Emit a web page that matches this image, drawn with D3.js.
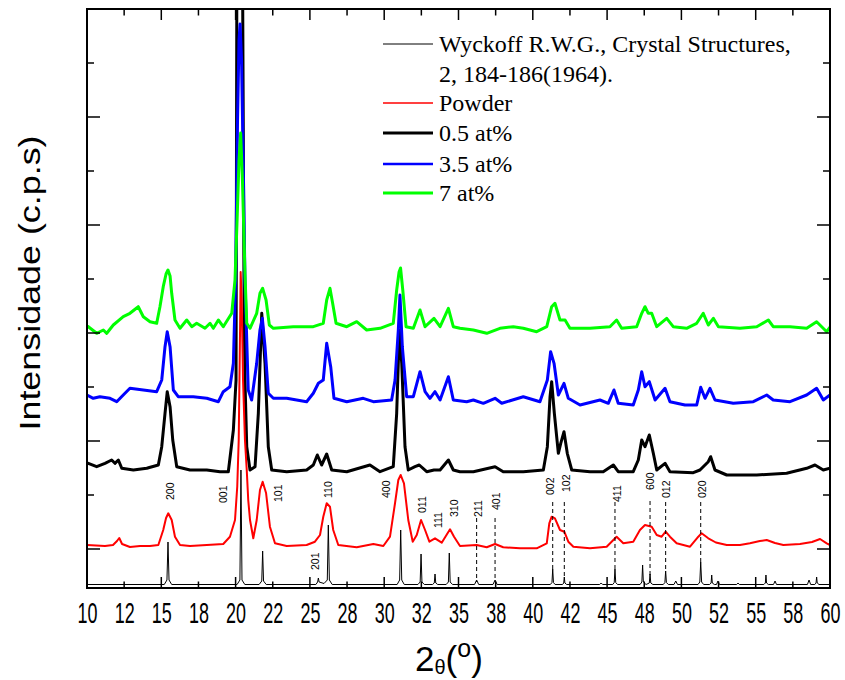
<!DOCTYPE html>
<html><head><meta charset="utf-8">
<script src="https://cdn.jsdelivr.net/npm/d3@7"></script>
<style>body{margin:0;background:#fff}svg{display:block}</style>
</head><body>
<svg id="chart" width="845" height="680"></svg>
<script>
// ---------- DATA ----------
const xTicks = [10,12.5,15,17.5,20,22.5,25,27.5,30,32.5,35,37.5,40,42.5,45,47.5,50,52.5,55,57.5,60];
const xTickLabels = ["10","12","15","18","20","22","25","28","30","32","35","38","40","42","45","48","50","52","55","58","60"];
const yTicks = [390,930,1470,2010,2550,3090,3630,4170,4710,5250];
const yMajorTicks = [390,1470,2550,3630,4710];

const seriesNames = ["Reference","Powder","0.5 at%","3.5 at%","7 at%"];
const legendLabels = [["Wyckoff R.W.G., Crystal Structures,","2, 184-186(1964)."],["Powder"],["0.5 at%"],["3.5 at%"],["7 at%"]];

// reference pattern (Wyckoff) [2theta, intensity]
const reference = [
[10.0,35],
[15.20,35],[15.38,80],[15.45,460],[15.52,80],[15.70,35],
[20.10,35],[20.29,80],[20.36,1180],[20.43,80],[20.62,35],
[21.58,35],[21.76,70],[21.82,370],[21.88,70],[22.06,35],
[25.40,35],[25.52,60],[25.57,100],[25.62,60],[25.95,45],[26.17,80],[26.24,630],[26.31,80],[26.50,35],
[30.87,35],[31.04,80],[31.11,580],[31.18,80],[31.35,35],
[32.27,35],[32.42,60],[32.48,340],[32.54,60],[32.70,35],
[33.25,35],[33.37,50],[33.42,140],[33.47,50],[33.60,35],
[34.17,35],[34.32,60],[34.38,350],[34.44,60],[34.60,35],
[36.08,35],[36.22,80],[36.36,35],
[37.32,35],[37.46,80],[37.60,35],
[41.18,35],[41.29,55],[41.34,190],[41.39,55],[41.50,35],
[42.00,35],[42.08,50],[42.12,110],[42.16,50],[42.28,35],
[44.50,35],[44.60,50],[44.70,35],
[45.38,35],[45.48,55],[45.53,190],[45.58,55],[45.70,35],
[47.22,35],[47.34,60],[47.39,230],[47.44,60],[47.62,35],[47.84,50],[47.89,140],[47.94,50],[48.08,35],
[48.78,35],[48.89,55],[48.94,170],[48.99,55],[49.12,35],
[49.50,35],[49.62,70],[49.74,35],
[51.12,35],[51.24,60],[51.30,260],[51.36,60],[51.50,35],
[51.90,35],[52.00,50],[52.04,130],[52.08,50],[52.22,35],[52.36,35],[52.46,70],[52.56,35],
[53.72,35],[53.81,50],[53.90,35],
[55.55,35],[55.65,50],[55.69,130],[55.73,50],[55.85,35],
[56.20,35],[56.30,70],[56.40,35],
[58.48,35],[58.59,80],[58.70,35],
[58.98,35],[59.06,50],[59.10,110],[59.14,50],[59.26,35],
[60.0,35]
];

const powder = [
[10.0,430],[11.21,420],[11.75,430],[12.02,470],[12.17,500],[12.36,440],[12.89,410],[13.57,420],[14.24,420],[14.80,430],
[15.13,580],[15.32,700],[15.47,747],[15.70,680],[15.92,513],[16.26,430],[16.93,420],[18.06,430],[19.17,440],[19.62,513],
[19.96,680],[20.11,1013],[20.21,1480],[20.30,2580],[20.34,3160],[20.41,2880],[20.50,2080],[20.63,1480],[20.75,1180],[20.85,880],
[20.97,680],[21.19,497],[21.42,680],[21.64,980],[21.82,1063],[22.05,950],[22.31,613],[22.65,447],[23.44,420],[24.78,430],
[25.34,463],[25.68,530],[25.90,713],[26.13,847],[26.35,813],[26.57,580],[26.91,430],[28.15,407],[29.27,440],[29.94,420],
[30.39,513],[30.73,850],[30.95,1080],[31.11,1130],[31.33,1047],[31.62,680],[31.92,463],[32.19,530],[32.48,680],[32.75,580],
[33.04,463],[33.42,497],[33.87,453],[34.43,587],[34.70,513],[35.10,420],[36.22,430],[36.90,407],[37.46,440],[38.01,407],
[39.14,397],[40.26,397],[40.94,447],[41.11,647],[41.27,713],[41.49,697],[41.83,580],[42.12,563],[42.39,463],[42.73,413],
[43.85,397],[44.97,413],[45.42,480],[45.64,513],[46.09,447],[46.76,463],[47.21,580],[47.55,630],[48.00,613],[48.34,530],
[48.67,513],[48.94,563],[49.23,513],[49.68,447],[50.58,413],[51.14,513],[51.36,547],[51.81,497],[52.32,455],[53.05,430],
[53.94,430],[54.61,447],[55.28,470],[55.74,480],[56.30,450],[56.86,430],[57.98,440],[58.79,460],[59.33,490],[59.78,447],[60.0,430]
];

const at05 = [
[10.0,1240],[10.09,1247],[10.65,1213],[11.21,1247],[11.66,1280],[11.88,1247],[12.11,1280],[12.34,1197],[13.12,1180],[14.02,1197],
[14.80,1230],[15.03,1413],[15.25,1747],[15.40,1963],[15.59,1813],[15.77,1480],[16.04,1213],[16.93,1180],[18.06,1180],[18.95,1163],
[19.51,1163],[19.85,1580],[20.03,2080],[20.08,5790],[20.20,8880],[20.36,8880],[20.48,5790],[20.57,2880],[20.63,2080],[20.75,1413],
[20.97,1180],[21.31,1213],[21.53,1747],[21.76,2747],[21.98,2247],[22.20,1413],[22.43,1180],[23.44,1163],[24.78,1180],[25.23,1230],
[25.50,1330],[25.79,1230],[26.13,1340],[26.47,1180],[27.48,1163],[29.04,1230],[29.72,1163],[30.61,1213],[30.84,1747],[31.02,2580],
[31.18,2247],[31.40,1413],[31.62,1180],[32.07,1213],[32.36,1230],[32.86,1163],[33.35,1180],[33.76,1180],[34.32,1280],[34.65,1180],
[35.10,1163],[36.00,1163],[37.46,1213],[38.01,1163],[39.36,1163],[40.71,1180],[40.98,1413],[41.16,1913],[41.27,2063],[41.45,1747],
[41.72,1347],[41.88,1447],[42.10,1563],[42.32,1347],[42.62,1180],[43.85,1163],[44.74,1163],[45.42,1230],[45.75,1163],[46.76,1163],
[47.10,1280],[47.33,1480],[47.55,1413],[47.84,1530],[48.11,1347],[48.34,1180],[48.90,1247],[49.23,1163],[50.80,1153],[51.25,1180],
[51.81,1263],[51.97,1313],[52.26,1180],[53.05,1130],[55.07,1130],[57.08,1147],[58.43,1197],[58.99,1230],[59.55,1180],[60.0,1197]
];

const at35 = [
[10.0,1930],[10.42,1897],[10.87,1913],[11.55,1897],[12.00,1863],[12.44,1930],[12.89,1997],[13.79,1980],[14.69,1963],[15.03,2080],
[15.25,2413],[15.40,2563],[15.59,2413],[15.81,1980],[16.14,1913],[17.15,1913],[18.06,1897],[18.84,1863],[19.17,1963],[19.62,2013],
[19.85,2247],[20.00,3080],[20.13,4680],[20.23,5480],[20.30,5640],[20.40,5280],[20.50,4380],[20.63,3080],[20.85,1980],[21.08,1880],
[21.42,2247],[21.64,2580],[21.80,2697],[21.98,2413],[22.20,1947],[22.54,1897],[23.44,1897],[24.78,1863],[25.23,1947],[25.57,2047],
[25.90,2080],[26.13,2447],[26.40,2213],[26.62,1897],[27.48,1863],[28.59,1897],[29.27,1863],[30.50,1880],[30.73,2080],[30.95,2580],
[31.06,2930],[31.22,2413],[31.51,1913],[31.96,1913],[32.41,2163],[32.75,1963],[33.08,1897],[33.42,1963],[33.76,1880],[34.32,2113],
[34.65,1880],[35.55,1863],[36.00,1880],[36.67,1847],[37.46,1897],[37.91,1847],[39.36,1913],[40.48,1863],[40.98,2080],[41.20,2363],
[41.43,2247],[41.72,1930],[42.10,2047],[42.39,1897],[43.18,1830],[44.52,1880],[45.08,1847],[45.46,1980],[45.75,1847],[46.76,1830],
[47.10,1980],[47.33,2163],[47.55,2013],[47.84,2063],[48.23,1880],[48.90,1997],[49.23,1863],[50.24,1830],[51.03,1830],[51.30,2007],
[51.59,1897],[51.92,1997],[52.26,1880],[53.49,1847],[54.84,1863],[55.74,1930],[56.18,1880],[57.31,1863],[58.43,1930],[59.10,1997],
[59.55,1880],[60.0,1930]
];

const at7 = [
[10.0,2620],[10.09,2613],[10.65,2547],[11.10,2580],[11.33,2547],[11.77,2630],[12.44,2713],[12.89,2747],[13.45,2813],[13.79,2713],
[14.24,2663],[14.69,2647],[14.91,2813],[15.13,3013],[15.32,3140],[15.45,3180],[15.59,3120],[15.70,2947],[15.92,2680],[16.26,2597],
[16.71,2680],[17.05,2613],[17.38,2647],[17.94,2597],[18.28,2647],[18.50,2597],[18.84,2680],[19.17,2613],[19.74,2747],[19.96,3080],
[20.10,3680],[20.23,4280],[20.34,4550],[20.46,4080],[20.57,3480],[20.63,3150],[20.75,2647],[20.97,2597],[21.42,2747],[21.64,2947],
[21.82,2997],[22.05,2880],[22.27,2630],[22.54,2597],[23.88,2613],[25.23,2613],[25.90,2647],[26.13,2880],[26.35,2997],[26.53,2847],
[26.76,2647],[27.48,2613],[28.15,2663],[28.82,2580],[29.72,2597],[30.61,2647],[30.84,2980],[31.00,3160],[31.10,3200],[31.25,2980],
[31.47,2613],[31.96,2597],[32.41,2780],[32.75,2613],[33.35,2697],[33.76,2613],[34.32,2797],[34.65,2613],[35.10,2597],[36.00,2580],
[36.90,2547],[37.79,2597],[38.69,2613],[39.36,2597],[40.26,2563],[40.94,2613],[41.27,2813],[41.49,2847],[41.83,2680],[42.17,2680],
[42.50,2597],[43.85,2597],[45.19,2613],[45.64,2680],[45.98,2597],[46.99,2613],[47.33,2747],[47.55,2813],[47.77,2747],[48.00,2747],
[48.34,2613],[49.01,2697],[49.45,2613],[50.35,2597],[51.03,2647],[51.47,2747],[51.81,2630],[52.15,2697],[52.49,2613],[53.94,2597],
[55.07,2613],[55.85,2680],[56.18,2613],[57.31,2613],[58.43,2597],[59.10,2663],[59.78,2563],[60.0,2610]
];

// hkl annotations: text, 2theta of label, intensity at label foot
const hklLabels = ["200","001","101","110","201","400","011","111","310","211","401","002","102","411","600","012","020"];
const hklAngle  = [15.63,19.15,22.85,26.22,25.34,30.15,32.59,33.62,34.70,36.31,37.57,41.16,42.28,45.65,47.89,48.96,51.37];
const hklFoot   = [880,850,860,900,180,900,750,600,710,710,780,930,960,860,980,900,900];
// dashed drop lines
const dropAngle  = [36.22,37.46,41.34,42.12,45.53,47.89,48.94,51.30];
const dropTop    = [700,700,860,860,860,870,860,860];
const dropBottom = [60,60,180,100,190,130,170,260];

// ---------- STYLE ----------
const colors = ["#000000","#ff0000","#000000","#0000ff","#00ff00"];
const widths = [1,2,3,3,3];
const legendWidths = [1,1.5,3,2.5,3];

// ---------- DRAW ----------
const svg = d3.select("#chart");
const L=87,R=830,T=9,B=588;
const x = d3.scaleLinear().domain([10,60]).range([L,R]);
const y = d3.scaleLinear().domain([0,5790]).range([B,T]);

svg.append("defs").append("clipPath").attr("id","clip")
  .append("rect").attr("x",L).attr("y",T).attr("width",R-L).attr("height",B-T);

const line = d3.line().x(d=>x(d[0])).y(d=>y(d[1]));
const plot = svg.append("g").attr("clip-path","url(#clip)");
const drawOrder = [[at05,2],[at35,3],[at7,4],[powder,1],[reference,0]];
drawOrder.forEach(([data,i])=>{
  plot.append("path").datum(data).attr("d",line)
    .attr("fill","none").attr("stroke",colors[i]).attr("stroke-width",widths[i])
    .attr("stroke-linejoin","round");
});

// drop lines
plot.selectAll(".drop").data(dropAngle).enter().append("line")
  .attr("x1",d=>x(d)).attr("x2",d=>x(d))
  .attr("y1",(d,i)=>y(dropTop[i])).attr("y2",(d,i)=>y(dropBottom[i]))
  .attr("stroke","#000").attr("stroke-width",1).attr("stroke-dasharray","4,3");

// hkl labels
svg.selectAll(".hkl").data(hklLabels).enter().append("text")
  .attr("transform",(d,i)=>`translate(${x(hklAngle[i])+3.8},${y(hklFoot[i])}) rotate(-90)`)
  .attr("font-family","Liberation Sans, Arial, sans-serif").attr("font-size",10.5)
  .attr("fill","#000").text(d=>d);

// frame
svg.append("rect").attr("x",L).attr("y",T).attr("width",R-L).attr("height",B-T)
  .attr("fill","none").attr("stroke","#000").attr("stroke-width",2);

// x ticks (inside, bottom and top)
const isMaj = t => Math.abs(t/5-Math.round(t/5))<1e-9;
xTicks.forEach(t=>{
  const len = isMaj(t)?11:6.5;
  svg.append("line").attr("x1",x(t)).attr("x2",x(t)).attr("y1",B).attr("y2",B-len).attr("stroke","#000").attr("stroke-width",1.5);
  svg.append("line").attr("x1",x(t)).attr("x2",x(t)).attr("y1",T).attr("y2",T+len).attr("stroke","#000").attr("stroke-width",1.5);
});
// y ticks (inside, left and right)
yTicks.forEach(v=>{
  const len = yMajorTicks.includes(v)?13:7;
  svg.append("line").attr("x1",L).attr("x2",L+len).attr("y1",y(v)).attr("y2",y(v)).attr("stroke","#000").attr("stroke-width",1.5);
  svg.append("line").attr("x1",R).attr("x2",R-len).attr("y1",y(v)).attr("y2",y(v)).attr("stroke","#000").attr("stroke-width",1.5);
});

// x tick labels via axis
const gx = svg.append("g").attr("transform",`translate(0,${B})`)
  .call(d3.axisBottom(x).tickValues(xTicks).tickSize(0).tickPadding(14).tickFormat((d,i)=>xTickLabels[i]));
gx.select(".domain").remove();
gx.selectAll("text").attr("font-family","Liberation Sans, Arial, sans-serif").attr("font-size",29)
  .attr("fill","#000").attr("transform","scale(0.62,1)");

// axis titles
svg.append("text").attr("transform","translate(40,283) rotate(-90)")
  .attr("text-anchor","middle").attr("font-family","Liberation Sans, Arial, sans-serif")
  .attr("font-size",30).attr("textLength",295).attr("lengthAdjust","spacingAndGlyphs")
  .attr("fill","#000").text("Intensidade (c.p.s)");

const xt = svg.append("text").attr("x",415).attr("y",671)
  .attr("font-family","Liberation Sans, Arial, sans-serif").attr("fill","#000");
xt.append("tspan").attr("font-size",35).text("2");
xt.append("tspan").attr("font-size",20).attr("dy",3).text("θ");
xt.append("tspan").attr("font-size",35).attr("dy",-3).text("(");
xt.append("tspan").attr("font-size",25).attr("dy",-14).text("o");
xt.append("tspan").attr("font-size",35).attr("dy",14).text(")");

// legend
const lg = svg.append("g");
const legY = [44,103,133,164,193];
legendLabels.forEach((lab,i)=>{
  lg.append("line").attr("x1",383).attr("x2",433).attr("y1",legY[i]).attr("y2",legY[i])
    .attr("stroke",colors[i]).attr("stroke-width",legendWidths[i]);
  lab.forEach((s,j)=>{
    lg.append("text").attr("x",439).attr("y",legY[i]+8+j*30)
      .attr("font-family","Liberation Serif, Times New Roman, serif").attr("font-size",24)
      .attr("fill","#000").text(s);
  });
});
</script>
</body></html>
